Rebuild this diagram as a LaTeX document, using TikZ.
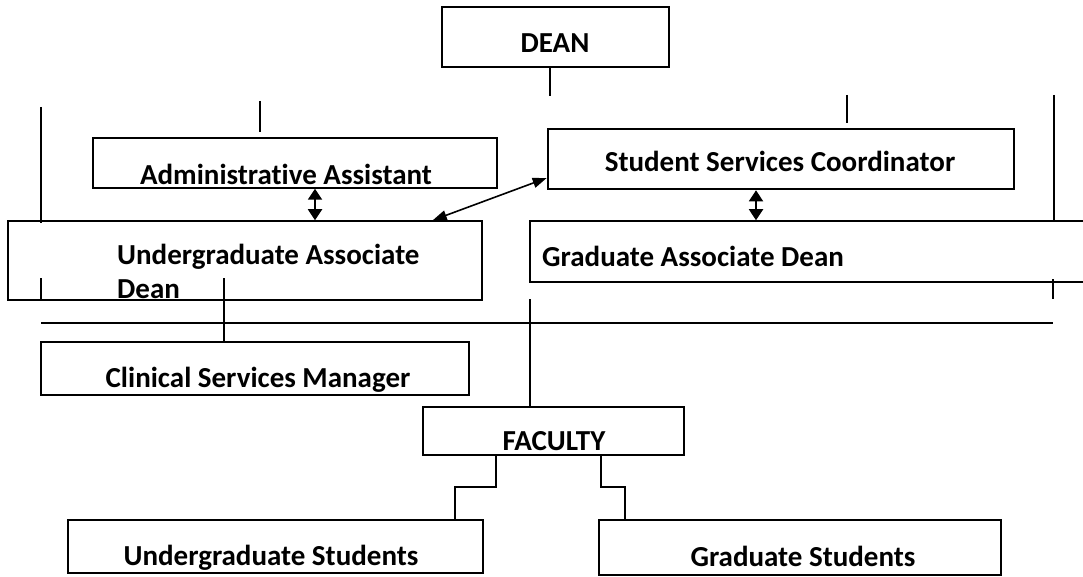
\documentclass[tikz,border=0pt]{standalone}
\usepackage{fontspec}
\setmainfont[Ligatures=NoCommon]{Carlito}
\usetikzlibrary{arrows.meta}
\usetikzlibrary{positioning}

\tikzset{
  box/.style={draw,line width=1.5pt,inner sep=0pt},
  lbl/.style={font=\fontsize{29}{34}\selectfont\bfseries,inner sep=0pt,anchor=base},
  wire/.style={line width=1.4pt},
  dbl/.style={line width=1.9pt,{Triangle[width=14pt,length=11pt]}-{Triangle[width=14pt,length=11pt]}},
  slant/.style={line width=1.6pt,{Triangle[width=10pt,length=14pt]}-{Triangle[width=10pt,length=14pt]}}
}

\begin{document}
\begin{tikzpicture}[x=1pt,y=-1pt]
\useasboundingbox (0,0) rectangle (1083,577);

% boxes
\node[box,minimum width=227pt,minimum height=60pt] (dean) at (555.5,37) {};
\node[box,minimum width=404pt,minimum height=50pt] (admin) at (295,163) {};
\node[box,minimum width=474pt,minimum height=79pt] (uad) at (245,260.5) {};
\node[box,line width=2.6pt,minimum width=466pt,minimum height=60pt] (ssc) at (781,159) {};
\node[box,minimum width=570pt,minimum height=61pt] (gad) at (815,251.5) {};
\node[box,minimum width=428pt,minimum height=53pt] (csm) at (255,368.5) {};
\node[box,minimum width=261pt,minimum height=48pt] (fac) at (553.5,431) {};
\node[box,minimum width=415pt,minimum height=53pt] (ugs) at (275.5,546.5) {};
\node[box,minimum width=402pt,minimum height=55pt] (gs) at (800,547.5) {};

% texts
\node[lbl] (deanlbl) at (555,53) {DEAN};
\node[lbl] (adminlbl) at (286,185) {Administrative Assistant};
\node[lbl,anchor=base west] (uadlbl) at (117,264) {Undergraduate Associate};
\node[lbl,anchor=base west] (uadlbl2) at (117,298) {Dean};
\node[lbl] (ssclbl) at (780,172) {Student Services Coordinator};
\node[lbl,anchor=base west] (gadlbl) at (542,266) {Graduate Associate Dean};
\node[lbl] (csmlbl) at (258,387) {Clinical Services Manager};
\node[lbl] (faclbl) at (554,450) {FACULTY};
\node[lbl] (ugslbl) at (271,565) {Undergraduate Students};
\node[lbl] (gslbl) at (803,566) {Graduate Students};

% loose ends of lines
\coordinate (d1) at (550,96);
\coordinate (t1a) at (260,101);
\coordinate (t1b) at (260,132);
\coordinate (t2a) at (41,107);
\coordinate (t2b) at (41,223);
\coordinate (t3a) at (847,95);
\coordinate (t3b) at (847,123);
\coordinate (t4a) at (1054,95);
\coordinate (t4b) at (1054,222);
\coordinate (b1a) at (41,278);
\coordinate (b1b) at (41,300);
\coordinate (b2a) at (224,278);
\coordinate (b3a) at (1053,279);
\coordinate (b3b) at (1053,299);
\coordinate (h1a) at (41,323);
\coordinate (h1b) at (1053,323);
\coordinate (v1) at (530,299);
\coordinate (f1) at (496,487);
\coordinate (f2) at (455,487);
\coordinate (g1) at (601,487);
\coordinate (g2) at (625,487);
\coordinate (a1) at (315,0);
\coordinate (a2) at (756,0);

\draw[wire](d1 |- dean.south)--(d1);
\draw[wire](t1a)--(t1b);
\draw[wire](t2a)--(t2b);
\draw[wire](t3a)--(t3b);
\draw[wire](t4a)--(t4b);
\draw[wire](b1a)--(b1b);
\draw[wire](b2a)--(b2a |- csm.north);
\draw[wire](b3a)--(b3b);
\draw[wire](h1a)--(h1b);
\draw[wire](v1)--(v1 |- fac.north);
\draw[wire](f1 |- fac.south)--(f1)--(f2)--(f2 |- ugs.north);
\draw[wire](g1 |- fac.south)--(g1)--(g2)--(g2 |- gs.north);
\draw[wire]([yshift=-4pt]ugs.south west)--([yshift=-4pt]ugs.south east);

\draw[dbl](a1 |- admin.south)--(a1 |- uad.north);
\draw[dbl](a2 |- ssc.south)--(a2 |- gad.north);
\draw[slant]([yshift=-19pt]ssc.west)--([xshift=-50pt]uad.north east);
\end{tikzpicture}
\end{document}
